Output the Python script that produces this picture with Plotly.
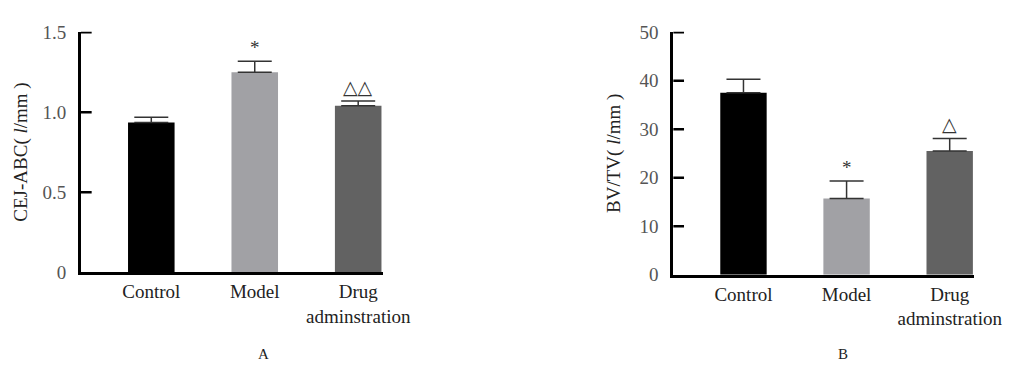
import plotly.graph_objects as go

categories = ["Control", "Model", "Drug<br>adminstration"]
colors = ["#000000", "#a1a1a5", "#626262"]

cej_values = [0.935, 1.25, 1.04]
cej_errors = [0.033, 0.068, 0.030]
cej_ticks = [0, 0.5, 1.0, 1.5]
cej_ticktext = ["0", "0.5", "1.0", "1.5"]
cej_marks = ["", "*", "△△"]

bvtv_values = [37.5, 15.7, 25.5]
bvtv_errors = [2.8, 3.6, 2.6]
bvtv_ticks = [0, 10, 20, 30, 40, 50]
bvtv_ticktext = ["0", "10", "20", "30", "40", "50"]
bvtv_marks = ["", "*", "△"]

W, H = 1027, 381
FONT = "Liberation Serif, DejaVu Serif, serif"

def px_x(p):
    return p / W

def px_y(p):
    return 1 - p / H

xpos = list(range(len(categories)))

fig = go.Figure()
fig.add_trace(go.Bar(
    x=xpos, y=cej_values, marker=dict(color=colors, line=dict(width=0)),
    width=0.45,
    error_y=dict(type="data", array=cej_errors, symmetric=False, arrayminus=[0, 0, 0],
                 color="#333333", thickness=1.5, width=17),
    xaxis="x", yaxis="y", showlegend=False))
fig.add_trace(go.Bar(
    x=xpos, y=bvtv_values, marker=dict(color=colors, line=dict(width=0)),
    width=0.45,
    error_y=dict(type="data", array=bvtv_errors, symmetric=False, arrayminus=[0, 0, 0],
                 color="#333333", thickness=1.5, width=17),
    xaxis="x2", yaxis="y2", showlegend=False))

xrange = [-0.68, 2.235]
common_x = dict(range=xrange, tickvals=xpos, ticktext=categories, showline=True,
                linecolor="#000000", linewidth=3, ticks="", showgrid=False, zeroline=False,
                tickfont=dict(family=FONT, size=19, color="#222222"), fixedrange=True)
common_y = dict(showline=True, linecolor="#000000", linewidth=3, ticks="",
                showgrid=False, zeroline=False, ticklabelstandoff=8,
                tickfont=dict(family=FONT, size=19, color="#555555"),
                title_font=dict(family=FONT, size=19, color="#222222"))

fig.update_layout(
    width=W, height=H, margin=dict(l=0, r=0, t=0, b=0),
    paper_bgcolor="white", plot_bgcolor="white",
    xaxis=dict(domain=[px_x(75), px_x(385)], anchor="y", **common_x),
    yaxis=dict(domain=[px_y(269), px_y(14.6)], anchor="x", range=[0, 1.5025],
               tickvals=cej_ticks, ticktext=cej_ticktext,
               title=dict(text="CEJ-ABC( <i>l</i>/mm )", standoff=10), **common_y),
    xaxis2=dict(domain=[px_x(684), px_x(993)], anchor="y2", **common_x),
    yaxis2=dict(domain=[px_y(271.7), px_y(14.6)], anchor="x2", range=[0, 50.08],
                tickvals=bvtv_ticks, ticktext=bvtv_ticktext,
                title=dict(text="BV/TV( <i>l</i>/mm )", standoff=14), **common_y),
    bargap=0.5,
)

# inside tick marks on the y axes, placed at the tick values
for xr, yr, ticks in (("x domain", "y", cej_ticks), ("x2 domain", "y2", bvtv_ticks)):
    for t in ticks[1:]:
        fig.add_shape(type="line", xref=xr, yref=yr, x0=0, x1=11 / 310, y0=t, y1=t,
                      line=dict(color="#000000", width=2.5), layer="above")

for i, m in enumerate(cej_marks):
    if m:
        fig.add_annotation(x=i, y=cej_values[i] + cej_errors[i], xref="x", yref="y",
                           text=m, showarrow=False, yanchor="bottom", yshift=1,
                           font=dict(family=FONT, size=19, color="#333333"))
for i, m in enumerate(bvtv_marks):
    if m:
        fig.add_annotation(x=i, y=bvtv_values[i] + bvtv_errors[i], xref="x2", yref="y2",
                           text=m, showarrow=False, yanchor="bottom", yshift=1,
                           font=dict(family=FONT, size=19, color="#333333"))

fig.add_annotation(x=px_x(255), y=px_y(366), xref="paper", yref="paper", text="A",
                   showarrow=False, font=dict(family=FONT, size=15, color="#222222"))
fig.add_annotation(x=px_x(866), y=px_y(366), xref="paper", yref="paper", text="B",
                   showarrow=False, font=dict(family=FONT, size=15, color="#222222"))

fig.write_html("out.html")
